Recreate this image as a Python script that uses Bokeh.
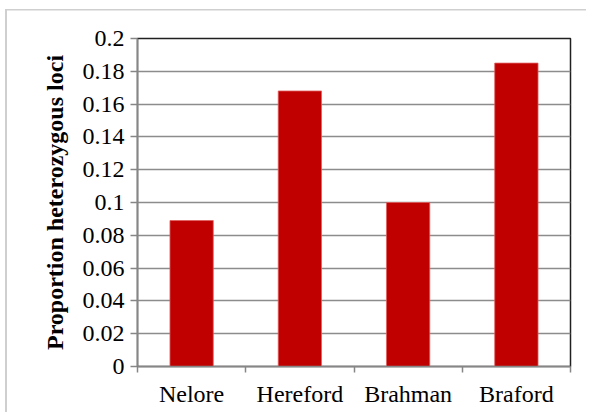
from bokeh.plotting import figure
from bokeh.embed import file_html
from bokeh.resources import INLINE
from bokeh.models import FixedTicker, Range1d

breeds = ["Nelore", "Hereford", "Brahman", "Braford"]
proportions = [0.089, 0.168, 0.100, 0.185]
y_ticks = [0, 0.02, 0.04, 0.06, 0.08, 0.1, 0.12, 0.14, 0.16, 0.18, 0.2]

centers = [i + 0.5 for i in range(len(breeds))]
bounds = list(range(len(breeds) + 1))

p = figure(frame_width=433, frame_height=328,
           x_range=Range1d(0, len(breeds)), y_range=Range1d(0, 0.2),
           output_backend="svg", toolbar_location=None,
           min_border_left=137, min_border_right=16, min_border_top=38, min_border_bottom=46)
p.border_fill_color = None
p.background_fill_color = "white"
p.styles = {
    "background-color": "white",
    "background-image": "linear-gradient(#cfcfcf,#cfcfcf), linear-gradient(#cfcfcf,#cfcfcf)",
    "background-size": "2px 100%, 100% 1.5px",
    "background-position": "5px 9px, 5px 9px",
    "background-repeat": "no-repeat",
}

p.vbar(x=centers, top=proportions, width=0.4, fill_color="#C00000",
       line_color="#e06060", line_width=0.8)

p.outline_line_color = "#202020"
p.outline_line_width = 1.5

p.yaxis.ticker = FixedTicker(ticks=y_ticks)
p.yaxis.major_label_overrides = {t: ("%g" % t) for t in y_ticks}
p.yaxis.axis_label = "Proportion heterozygous loci"
p.yaxis.axis_label_text_font = "Liberation Serif"
p.yaxis.axis_label_text_font_style = "bold"
p.yaxis.axis_label_text_font_size = "24px"
p.yaxis.axis_label_text_color = "black"
p.yaxis.axis_label_standoff = 12

p.xaxis.ticker = FixedTicker(ticks=centers, minor_ticks=bounds)
p.xaxis.major_label_overrides = {c: b for c, b in zip(centers, breeds)}

for ax in (p.xaxis, p.yaxis):
    ax.major_label_text_font = "Liberation Serif"
    ax.major_label_text_font_size = "24px"
    ax.major_label_text_color = "black"
    ax.axis_line_color = "#868686"
    ax.axis_line_width = 1.5
    ax.major_tick_line_color = "#868686"
    ax.major_tick_line_width = 1.5
    ax.major_tick_in = 0

p.yaxis.major_tick_out = 7
p.yaxis.minor_tick_line_color = None
p.yaxis.major_label_standoff = 6

p.xaxis.major_tick_line_color = None
p.xaxis.major_tick_out = 0
p.xaxis.minor_tick_line_color = "#868686"
p.xaxis.minor_tick_line_width = 1.5
p.xaxis.minor_tick_in = 0
p.xaxis.minor_tick_out = 6
p.xaxis.major_label_standoff = 8

p.xgrid.grid_line_color = None
p.ygrid.grid_line_color = "#8c8c8c"
p.ygrid.grid_line_width = 1.5
p.ygrid.ticker = FixedTicker(ticks=y_ticks)

open("out.html", "w").write(file_html(p, INLINE))
